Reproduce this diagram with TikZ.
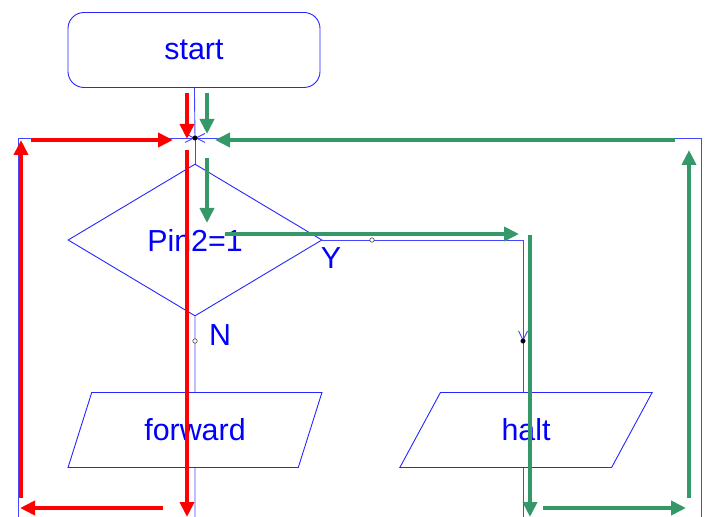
\documentclass[tikz,border=0pt]{standalone}
\usepackage{fontspec}
\setmainfont{Liberation Sans}
\usetikzlibrary{shapes.geometric, positioning, arrows.meta}
\definecolor{flowblue}{RGB}{70,70,255}
\definecolor{pathgreen}{RGB}{52,152,104}
\tikzset{
  box/.style={draw=blue!85!white, line width=0.9bp, text=blue, font=\fontsize{30.5}{34}\selectfont, inner sep=0pt},
  lbl/.style={text=blue, font=\fontsize{30.5}{34}\selectfont, inner sep=0pt},
  flow/.style={draw=flowblue, line width=0.9bp},
  barb/.style={-{Straight Barb[length=9bp,width=9bp]}},
  redpath/.style={draw=red, line width=4bp, -{Triangle[length=15bp,width=14bp]}},
  greenpath/.style={draw=pathgreen, line width=4bp, -{Triangle[length=15bp,width=14bp]}},
  dot/.style={circle, draw=black, fill=#1, inner sep=0pt, minimum size=4.5bp},
  dot/.default=black,
  parallel/.style={box, trapezium, trapezium left angle=62.5, trapezium right angle=117.5,
    trapezium stretches, minimum width=254bp, minimum height=75bp}
}
\begin{document}
\begin{tikzpicture}[x=1bp, y=-1bp]
  \useasboundingbox (0,0) rectangle (706,517);

  % Flowchart boxes
  \node[box, rounded corners=16bp, minimum width=252bp, minimum height=75bp] (start) at (194,50) {start};
  \node[box, diamond, minimum width=254bp, minimum height=152bp] (test) at (195,240) {Pin2=1};
  \node[parallel] (fwd) at (195,430) {forward};
  \node[parallel] (halt) at (526,430) {halt};
  \node[lbl] (yes) at (331,258) {Y};
  \node[lbl] (no) at (220,335) {N};

  % Corners of the flow lines
  \coordinate (join) at (195,138);
  \coordinate (ycorner) at (523,240);
  \coordinate (ydot) at (523,341);
  \coordinate (ndot) at (195,341);
  \coordinate (lt) at (18,138);
  \coordinate (lb) at (18,517);
  \coordinate (rt) at (701,138);
  \coordinate (rb) at (701,517);

  % Blue flow lines
  \draw[flow] (start) -- (join);
  \draw[flow] (join) -- (test.north);
  \draw[flow, barb] (test.east) -- (ycorner) -- (ydot);
  \draw[flow] (ydot) -- (ydot |- halt.north);
  \draw[flow] (ydot |- halt.south) -- (ydot |- lb);
  \draw[flow] (test.south) -- (ndot) -- (fwd.north);
  \draw[flow] (fwd.south) -- (ndot |- lb);
  \draw[flow, barb] (lb) -- (lt) -- (join);
  \draw[flow, barb] (rb) -- (rt) -- (join);

  % Small marks on the lines
  \node[dot] (jmark) at (join) {};
  \node[dot=white] (ymark) at (372,240) {};
  \node[dot] (hmark) at (ydot) {};
  \node[dot=white] (nmark) at (ndot) {};

  % Red path (N branch)
  \draw[redpath] (187,93) -- (187,139);
  \draw[redpath] (187,150) -- (187,517);
  \draw[redpath] (163,508) -- (20,508);
  \draw[redpath] (21,498) -- (21,140);
  \draw[redpath] (31,140) -- (173,140);

  % Green path (Y branch)
  \draw[greenpath] (207,93) -- (207,134);
  \draw[greenpath] (207,158) -- (207,223);
  \draw[greenpath] (225,234) -- (519,234);
  \draw[greenpath] (530,235) -- (530,517);
  \draw[greenpath] (543,508) -- (686,508);
  \draw[greenpath] (689,498) -- (689,150);
  \draw[greenpath] (675,140) -- (215,140);

\end{tikzpicture}
\end{document}
